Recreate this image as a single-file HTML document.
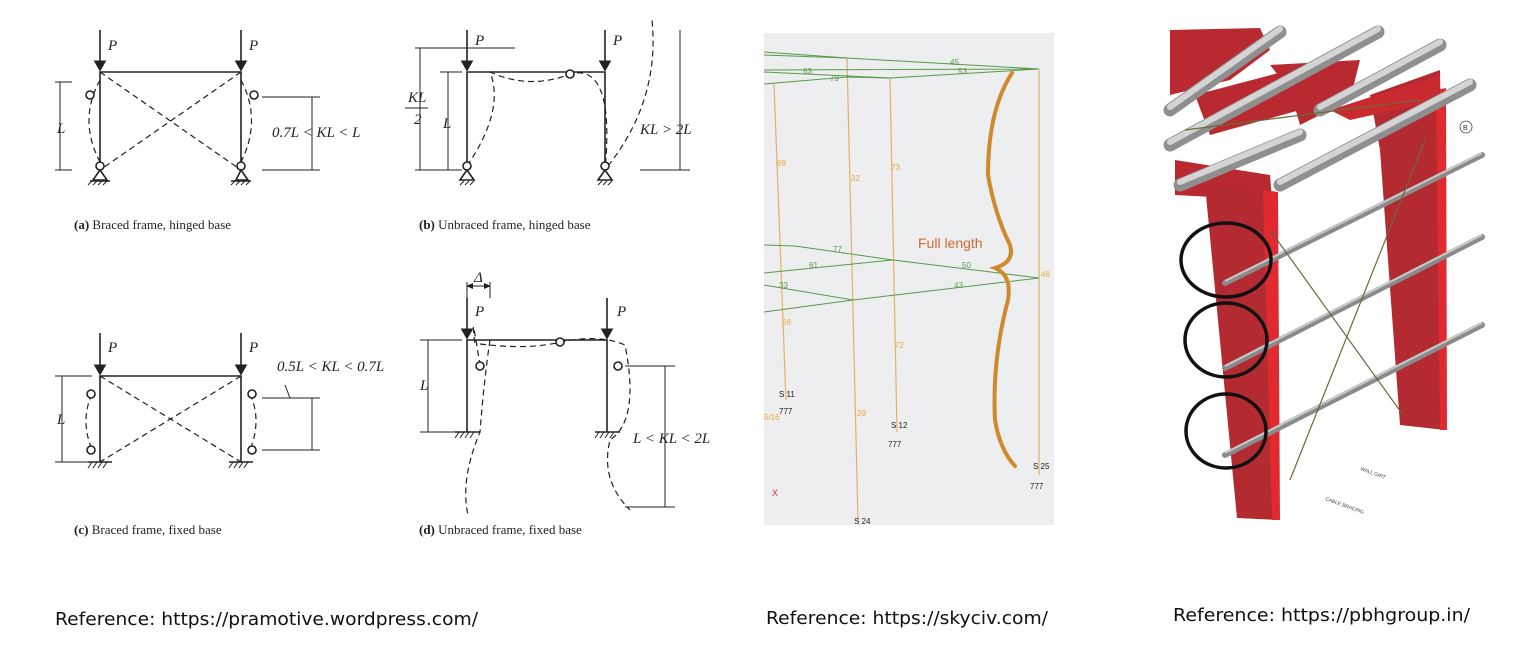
<!DOCTYPE html>
<html><head><meta charset="utf-8"><style>
html,body{margin:0;padding:0;background:#fff;width:1538px;height:667px;overflow:hidden}
svg{display:block}
.t{font-family:"Liberation Serif",serif;font-size:13px;fill:#222}
.i{font-family:"Liberation Serif",serif;font-style:italic;font-size:15px;fill:#222}
.r{font-family:"DejaVu Sans","Liberation Sans",sans-serif;font-size:17.5px;fill:#111}
</style></head><body>
<svg width="1538" height="667" viewBox="0 0 1538 667">
<defs>
<marker id="ar" markerWidth="8" markerHeight="8" refX="6" refY="4" orient="auto"><path d="M0,0 L7,4 L0,8z" fill="#222"/></marker>
<marker id="a2" markerWidth="8" markerHeight="8" refX="6" refY="4" orient="auto-start-reverse"><path d="M0,1 L7,4 L0,7z" fill="#222"/></marker>
</defs>
<g stroke="#222" stroke-width="1.6" fill="none">
<line x1="100" y1="30" x2="100" y2="70" marker-end="url(#ar)"/>
<line x1="241" y1="30" x2="241" y2="70" marker-end="url(#ar)"/>
<polyline points="100,170 100,72 241,72 241,170"/>
<g stroke-dasharray="6,4" stroke-width="1.2"><line x1="100" y1="72" x2="241" y2="170"/><line x1="241" y1="72" x2="100" y2="170"/>
<path d="M100,80 Q78,120 100,162"/><path d="M241,80 Q262,120 241,162"/></g>
<circle cx="90" cy="95" r="4" fill="#fff"/><circle cx="254" cy="95" r="4" fill="#fff"/>
<circle cx="100" cy="166" r="4" fill="#fff"/><circle cx="241" cy="166" r="4" fill="#fff"/>
<path d="M93,180 L100,170 L107,180z M236,180 L241,170 L248,180z"/>
<line x1="90" y1="181" x2="110" y2="181"/><line x1="231" y1="181" x2="251" y2="181"/>
<line x1="60" y1="82" x2="60" y2="170" stroke-width="1"/><line x1="55" y1="82" x2="72" y2="82" stroke-width="1"/><line x1="55" y1="170" x2="72" y2="170" stroke-width="1"/>
<line x1="312" y1="97" x2="312" y2="170" stroke-width="1"/><line x1="262" y1="97" x2="320" y2="97" stroke-width="1"/><line x1="262" y1="170" x2="320" y2="170" stroke-width="1"/>
<line x1="467" y1="30" x2="467" y2="70" marker-end="url(#ar)"/>
<line x1="605" y1="30" x2="605" y2="70" marker-end="url(#ar)"/>
<polyline points="467,170 467,72 605,72 605,170"/>
<line x1="415" y1="48" x2="515" y2="48" stroke-width="1"/>
<line x1="420" y1="48" x2="420" y2="170" stroke-width="1"/><line x1="448" y1="72" x2="448" y2="170" stroke-width="1"/>
<line x1="440" y1="72" x2="462" y2="72" stroke-width="1"/><line x1="415" y1="170" x2="462" y2="170" stroke-width="1"/>
<line x1="680" y1="30" x2="680" y2="170" stroke-width="1"/><line x1="640" y1="170" x2="690" y2="170" stroke-width="1"/>
<g stroke-dasharray="6,4" stroke-width="1.2"><path d="M467,166 Q505,110 490,72 Q530,90 570,74 Q615,62 605,170"/><path d="M608,166 Q660,100 652,20"/></g>
<circle cx="570" cy="74" r="4" fill="#fff"/><circle cx="467" cy="166" r="4" fill="#fff"/><circle cx="605" cy="166" r="4" fill="#fff"/>
<path d="M460,180 L467,170 L474,180z M598,180 L605,170 L612,180z"/>
<line x1="100" y1="333" x2="100" y2="374" marker-end="url(#ar)"/>
<line x1="241" y1="333" x2="241" y2="374" marker-end="url(#ar)"/>
<polyline points="100,462 100,376 241,376 241,462"/>
<g stroke-dasharray="6,4" stroke-width="1.2"><line x1="100" y1="376" x2="241" y2="462"/><line x1="241" y1="376" x2="100" y2="462"/>
<path d="M92,394 Q80,420 92,450"/><path d="M250,394 Q262,420 250,450"/></g>
<circle cx="91" cy="394" r="4" fill="#fff"/><circle cx="91" cy="450" r="4" fill="#fff"/><circle cx="252" cy="394" r="4" fill="#fff"/><circle cx="252" cy="450" r="4" fill="#fff"/>
<line x1="88" y1="462" x2="112" y2="462"/><line x1="229" y1="462" x2="253" y2="462"/>
<line x1="62" y1="376" x2="62" y2="462" stroke-width="1"/><line x1="55" y1="376" x2="92" y2="376" stroke-width="1"/><line x1="55" y1="462" x2="92" y2="462" stroke-width="1"/>
<polyline points="285,385 290,398 312,398 312,450" stroke-width="1"/><line x1="262" y1="398" x2="320" y2="398" stroke-width="1"/><line x1="262" y1="450" x2="320" y2="450" stroke-width="1"/>
<line x1="467" y1="298" x2="467" y2="338" marker-end="url(#ar)"/>
<line x1="607" y1="298" x2="607" y2="338" marker-end="url(#ar)"/>
<polyline points="467,432 467,340 607,340 607,432"/>
<line x1="467" y1="286" x2="490" y2="286" stroke-width="1" marker-start="url(#a2)" marker-end="url(#a2)"/>
<line x1="467" y1="282" x2="467" y2="298" stroke-width="1"/><line x1="490" y1="282" x2="490" y2="298" stroke-width="1"/>
<line x1="428" y1="340" x2="428" y2="432" stroke-width="1"/><line x1="420" y1="340" x2="462" y2="340" stroke-width="1"/><line x1="420" y1="432" x2="462" y2="432" stroke-width="1"/>
<line x1="665" y1="366" x2="665" y2="507" stroke-width="1"/><line x1="625" y1="366" x2="675" y2="366" stroke-width="1"/><line x1="625" y1="507" x2="675" y2="507" stroke-width="1"/>
<g stroke-dasharray="6,4" stroke-width="1.2"><path d="M490,340 Q484,380 480,432 Q460,480 468,515"/><path d="M480,366 Q470,300 475,345"/><path d="M480,344 Q530,350 560,342 Q600,334 625,345 Q640,420 610,440 Q600,480 630,510"/></g>
<circle cx="480" cy="366" r="4" fill="#fff"/><circle cx="560" cy="342" r="4" fill="#fff"/><circle cx="618" cy="366" r="4" fill="#fff"/>
<line x1="455" y1="432" x2="480" y2="432"/><line x1="595" y1="432" x2="620" y2="432"/>
</g>
<g stroke="#222" stroke-width="1">
<path d="M88,185 l4,-4 M93,185 l4,-4 M98,185 l4,-4 M103,185 l4,-4 M231,185 l4,-4 M236,185 l4,-4 M241,185 l4,-4 M246,185 l4,-4 M460,185 l4,-4 M465,185 l4,-4 M470,185 l4,-4 M598,185 l4,-4 M603,185 l4,-4 M608,185 l4,-4"/>
<path d="M88,468 l4,-6 M93,468 l4,-6 M98,468 l4,-6 M103,468 l4,-6 M229,468 l4,-6 M234,468 l4,-6 M239,468 l4,-6 M244,468 l4,-6 M455,438 l4,-6 M460,438 l4,-6 M465,438 l4,-6 M470,438 l4,-6 M595,438 l4,-6 M600,438 l4,-6 M605,438 l4,-6 M610,438 l4,-6"/>
</g>
<g class="i"><text x="108" y="50">P</text><text x="249" y="50">P</text><text x="57" y="133">L</text><text x="272" y="137">0.7L &lt; KL &lt; L</text>
<text x="475" y="45">P</text><text x="613" y="45">P</text><text x="408" y="102">KL</text><text x="414" y="124">2</text><line x1="405" y1="108" x2="428" y2="108" stroke="#222"/><text x="443" y="128">L</text><text x="640" y="134">KL &gt; 2L</text>
<text x="108" y="352">P</text><text x="249" y="352">P</text><text x="57" y="424">L</text><text x="277" y="371">0.5L &lt; KL &lt; 0.7L</text>
<text x="474" y="282">Δ</text><text x="475" y="316">P</text><text x="617" y="316">P</text><text x="420" y="390">L</text><text x="633" y="443">L &lt; KL &lt; 2L</text></g>
<g class="t"><text x="74" y="229"><tspan font-weight="bold">(a)</tspan> Braced frame, hinged base</text>
<text x="419" y="229"><tspan font-weight="bold">(b)</tspan> Unbraced frame, hinged base</text>
<text x="74" y="534"><tspan font-weight="bold">(c)</tspan> Braced frame, fixed base</text>
<text x="419" y="534"><tspan font-weight="bold">(d)</tspan> Unbraced frame, fixed base</text></g>

<rect x="764" y="33" width="290" height="492" fill="#eceef0"/>
<g stroke="#e8b060" stroke-width="1.2">
<line x1="774" y1="84" x2="786" y2="400"/><line x1="847" y1="58" x2="858" y2="522"/><line x1="890" y1="78" x2="897" y2="432"/><line x1="1039" y1="69" x2="1039" y2="475"/></g>
<g stroke="#5a9a4a" stroke-width="1" fill="none">
<polyline points="764,52 847,58 1039,69 764,70"/><polyline points="764,72 890,78 1039,69"/><polyline points="764,84 847,77 890,78"/><line x1="764" y1="55" x2="847" y2="58"/>
<polyline points="764,245 795,246 893,260 1039,278"/><polyline points="764,273 893,260"/><polyline points="764,285 853,300 1039,278"/><polyline points="764,312 853,300"/></g>
<g font-family="Liberation Sans,sans-serif" font-size="8" fill="#5a9a4a"><text x="950" y="65">45</text><text x="803" y="74">63</text><text x="958" y="74">53</text><text x="830" y="81">79</text><text x="833" y="252">77</text><text x="809" y="268">61</text><text x="962" y="268">50</text><text x="779" y="288">33</text><text x="954" y="288">43</text></g>
<g font-family="Liberation Sans,sans-serif" font-size="8" fill="#f0a840"><text x="777" y="166">69</text><text x="851" y="181">32</text><text x="891" y="170">73</text><text x="1041" y="277">46</text><text x="782" y="325">68</text><text x="895" y="348">72</text><text x="857" y="416">29</text><text x="764" y="420">5/16</text></g>
<g font-family="Liberation Sans,sans-serif" font-size="8" fill="#222"><text x="779" y="397">S 11</text><text x="891" y="428">S 12</text><text x="1033" y="469">S 25</text><text x="854" y="524">S 24</text><text x="779" y="414">777</text><text x="888" y="447">777</text><text x="1030" y="489">777</text></g>
<text x="772" y="496" font-family="Liberation Sans,sans-serif" font-size="9" fill="#e03030">X</text>
<path d="M1012,73 Q988,110 988,175 Q995,215 1010,245 Q1015,262 995,268 Q1012,275 1008,300 Q992,360 995,420 Q1000,450 1015,466" stroke="#d08a2e" stroke-width="4" fill="none" stroke-linecap="round"/>
<text x="918" y="248" font-family="Liberation Sans,sans-serif" font-size="14" fill="#d2692e">Full length</text>

<g>
<polygon points="1170,30 1260,28 1270,50 1230,80 1170,95" fill="#b82a30"/>
<polygon points="1175,160 1270,175 1272,200 1175,195" fill="#b82a30"/>
<polygon points="1205,185 1270,192 1278,520 1237,518" fill="#b32a30"/>
<polygon points="1263,190 1278,192 1280,520 1272,520" fill="#e02a30"/>
<polygon points="1370,95 1440,70 1445,430 1400,425 1380,150" fill="#b32a30"/>
<polygon points="1436,90 1446,88 1447,430 1440,430" fill="#e02a30"/>
<polygon points="1270,65 1360,60 1350,100 1300,125 1290,90" fill="#b82a30"/>
<polygon points="1330,110 1440,75 1440,100 1350,120" fill="#c82a30"/>
<polygon points="1195,95 1290,70 1300,110 1210,135" fill="#b82a30"/>
</g>
<g stroke="#8f8f8f" stroke-width="13" stroke-linecap="round">
<line x1="1170" y1="110" x2="1280" y2="32"/><line x1="1170" y1="145" x2="1378" y2="32"/>
<line x1="1180" y1="185" x2="1300" y2="135"/><line x1="1280" y1="185" x2="1470" y2="85"/>
<line x1="1320" y1="110" x2="1440" y2="45"/>
</g>
<g stroke="#d4d4d4" stroke-width="6" stroke-linecap="round">
<line x1="1170" y1="107" x2="1280" y2="29"/><line x1="1170" y1="142" x2="1378" y2="29"/>
<line x1="1180" y1="182" x2="1300" y2="132"/><line x1="1280" y1="182" x2="1470" y2="82"/><line x1="1320" y1="107" x2="1440" y2="42"/>
</g>
<g stroke="#8a8a8a" stroke-width="6" stroke-linecap="round">
<line x1="1225" y1="283" x2="1482" y2="155"/><line x1="1225" y1="368" x2="1482" y2="237"/><line x1="1225" y1="455" x2="1482" y2="325"/>
</g>
<g stroke="#c8c8c8" stroke-width="2"><line x1="1225" y1="281" x2="1482" y2="153"/><line x1="1225" y1="366" x2="1482" y2="235"/><line x1="1225" y1="453" x2="1482" y2="323"/></g>
<g stroke="#6a6a3a" stroke-width="1.2"><line x1="1270" y1="230" x2="1403" y2="415"/><line x1="1290" y1="480" x2="1425" y2="140"/><line x1="1185" y1="130" x2="1420" y2="100"/></g>
<g stroke="#111" stroke-width="3.5" fill="none"><ellipse cx="1226" cy="260" rx="45" ry="37"/><ellipse cx="1226" cy="340" rx="41" ry="37"/><ellipse cx="1226" cy="431" rx="40" ry="37"/></g>
<circle cx="1466" cy="127" r="6" fill="none" stroke="#444" stroke-width="0.8"/><text x="1463" y="130" font-size="7" font-family="Liberation Sans,sans-serif" fill="#333">B</text>
<g font-family="Liberation Sans,sans-serif" font-size="5" fill="#444"><text x="1360" y="470" transform="rotate(20 1360 470)">WALL GIRT</text><text x="1325" y="500" transform="rotate(20 1325 500)">CABLE BRACING</text></g>

<text class="r" x="55" y="625" textLength="423" lengthAdjust="spacingAndGlyphs">Reference: https://pramotive.wordpress.com/</text>
<text class="r" x="766" y="624" textLength="282" lengthAdjust="spacingAndGlyphs">Reference: https://skyciv.com/</text>
<text class="r" x="1173" y="621" textLength="297" lengthAdjust="spacingAndGlyphs">Reference: https://pbhgroup.in/</text>
</svg>
</body></html>
